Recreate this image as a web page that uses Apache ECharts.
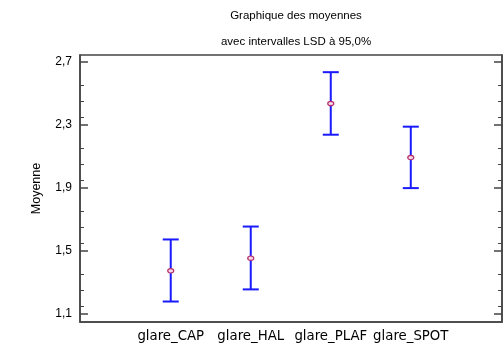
<!DOCTYPE html>
<html>
<head>
<meta charset="utf-8">
<script src="https://cdn.jsdelivr.net/npm/echarts@6/dist/echarts.min.js"></script>
<style>
  html, body { margin: 0; padding: 0; background: #fff; }
  #chart { width: 504px; height: 347px; }
</style>
</head>
<body>
<div id="chart"></div>
<script>
// Group means with 95% LSD intervals
const categories = ['glare_CAP', 'glare_HAL', 'glare_PLAF', 'glare_SPOT'];
const means = [1.375, 1.455, 2.437, 2.094];
const lower = [1.180, 1.257, 2.239, 1.900];
const upper = [1.574, 1.656, 2.636, 2.290];
const yTicks = [1.1, 1.5, 1.9, 2.3, 2.7];

const FONT = '"Liberation Sans", Arial, sans-serif';
const LABEL_FONT = '"DejaVu Sans", Verdana, sans-serif';
const AXIS_COLOR = '#444';

const rows = categories.map((c, i) => [i + 1, lower[i], upper[i], means[i]]);

const chart = echarts.init(document.getElementById('chart'), null, { renderer: 'canvas' });

const yCommon = {
  type: 'value',
  min: 1.05,
  max: 2.745,
  interval: 0.4,
  splitLine: { show: false },
  axisLine: { show: true, onZero: false, lineStyle: { color: AXIS_COLOR, width: 1.5 } },
  axisTick: { show: true, inside: true, length: 8, customValues: yTicks, lineStyle: { color: AXIS_COLOR, width: 1.5 } },
  minorTick: { show: true, splitNumber: 4, length: 4, lineStyle: { color: AXIS_COLOR, width: 1 } }
};

chart.setOption({
  animation: false,
  title: [
    { text: 'Graphique des moyennes', left: 291, top: 5, textAlign: 'center',
      textStyle: { fontFamily: FONT, fontSize: 11.5, fontWeight: 'normal', color: '#000' } },
    { text: 'avec intervalles LSD à 95,0%', left: 291, top: 31, textAlign: 'center',
      textStyle: { fontFamily: FONT, fontSize: 11.5, fontWeight: 'normal', color: '#000' } }
  ],
  grid: {
    left: 80, right: 2, top: 55, bottom: 25,
    show: true, borderColor: AXIS_COLOR, borderWidth: 1.5, backgroundColor: '#fff'
  },
  xAxis: {
    type: 'value',
    min: -0.134,
    max: 5.14,
    splitLine: { show: false },
    axisLine: { show: true, onZero: false, lineStyle: { color: AXIS_COLOR, width: 1.5 } },
    axisTick: { show: false },
    axisLabel: {
      customValues: [1, 2, 3, 4],
      formatter: v => categories[Math.round(v) - 1] || '',
      fontFamily: LABEL_FONT, fontSize: 13.3, color: '#000', margin: 8
    }
  },
  yAxis: [
    Object.assign({}, yCommon, {
      position: 'left',
      name: 'Moyenne',
      nameLocation: 'middle',
      nameGap: 37,
      nameRotate: 90,
      nameTextStyle: { fontFamily: FONT, fontSize: 12.5, color: '#000' },
      axisLabel: {
        customValues: yTicks,
        formatter: v => v.toFixed(1).replace('.', ','),
        fontFamily: FONT, fontSize: 12, color: '#000', margin: 8
      }
    }),
    Object.assign({}, yCommon, {
      position: 'right',
      axisLabel: { show: false }
    })
  ],
  series: [{
    type: 'custom',
    yAxisIndex: 0,
    data: rows,
    encode: { x: 0, y: [1, 2, 3] },
    renderItem: (params, api) => {
      const x = api.value(0);
      const lo = api.coord([x, api.value(1)]);
      const hi = api.coord([x, api.value(2)]);
      const mid = api.coord([x, api.value(3)]);
      const cap = 8;
      const blue = { stroke: '#1a1aff', lineWidth: 2 };
      return {
        type: 'group',
        children: [
          { type: 'line', shape: { x1: lo[0], y1: lo[1], x2: hi[0], y2: hi[1] }, style: blue },
          { type: 'line', shape: { x1: hi[0] - cap, y1: hi[1], x2: hi[0] + cap, y2: hi[1] }, style: blue },
          { type: 'line', shape: { x1: lo[0] - cap, y1: lo[1], x2: lo[0] + cap, y2: lo[1] }, style: blue },
          { type: 'ellipse', shape: { cx: mid[0], cy: mid[1], rx: 3, ry: 2.2 },
            style: { fill: '#f4d8e8', stroke: '#b8306a', lineWidth: 1.2 } }
        ]
      };
    }
  }]
});
</script>
</body>
</html>
